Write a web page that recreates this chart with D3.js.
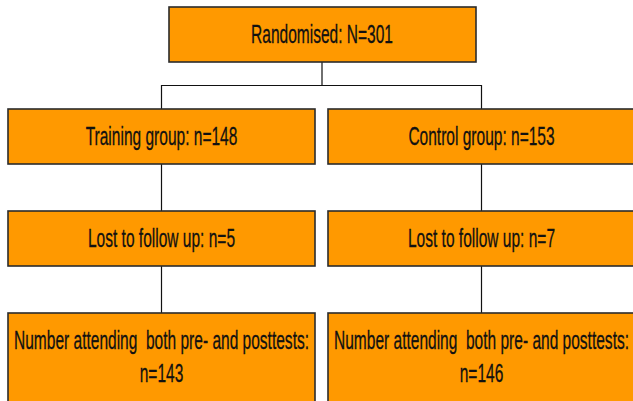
<!DOCTYPE html>
<html><head><meta charset="utf-8">
<script src="https://cdn.jsdelivr.net/npm/d3@7/dist/d3.min.js"></script>
<style>html,body{margin:0;padding:0;background:#fff;overflow:hidden} text{white-space:pre}</style>
</head><body>
<script>
// Data
const groups = ["Training group", "Control group"];
const randomised = 301;
const allocated = [148, 153];
const lost = [5, 7];
const completed = [143, 146];

const W = 633, H = 401;
const svg = d3.select("body").append("svg").attr("width", W).attr("height", H);

// scales for layout
const col = d3.scaleOrdinal().domain(["left", "right", "top"]).range([161.5, 481.5, 322]);
const row = d3.scaleOrdinal().domain([0, 1, 2, 3]).range([7, 109, 211, 313]);
const boxW = 307, boxH = 55, lastH = 110;
const fill = "#FF9900", stroke = "#2b2b2b";
const fontSize = 26.5, sx = 0.586;

const nodes = [
  {c: "top", r: 0, lines: [`Randomised: N=${randomised}`]},
  {c: "left", r: 1, lines: [`${groups[0]}: n=${allocated[0]}`]},
  {c: "right", r: 1, lines: [`${groups[1]}: n=${allocated[1]}`]},
  {c: "left", r: 2, lines: [`Lost to follow up: n=${lost[0]}`]},
  {c: "right", r: 2, lines: [`Lost to follow up: n=${lost[1]}`]},
  {c: "left", r: 3, lines: ["Number attending  both pre- and posttests:", `n=${completed[0]}`]},
  {c: "right", r: 3, lines: ["Number attending  both pre- and posttests:", `n=${completed[1]}`]}
];

// connectors
const lineG = svg.append("g").attr("fill", "none").attr("stroke", "#111").attr("stroke-width", 1.2);
const midY = 85.5;
lineG.append("path").attr("d",
  `M${col("top")},${row(0)+boxH} V${midY} M${col("left")},${row(1)} V${midY} H${col("right")} V${row(1)}`);
["left", "right"].forEach(c => {
  lineG.append("path").attr("d", `M${col(c)},${row(1)+boxH} V${row(2)}`);
  lineG.append("path").attr("d", `M${col(c)},${row(2)+boxH} V${row(3)}`);
});

// boxes
const g = svg.selectAll("g.node").data(nodes).join("g").attr("class", "node");
g.append("rect")
  .attr("x", d => col(d.c) - boxW/2 + (d.c === "top" ? 0.5 : 0))
  .attr("y", d => row(d.r))
  .attr("width", boxW)
  .attr("height", d => d.r === 3 ? lastH : boxH)
  .attr("fill", fill).attr("stroke", stroke).attr("stroke-width", 1.6);

g.each(function(d) {
  const cx = col(d.c);
  const base0 = d.r === 3 ? row(3) + 36.5 : row(d.r) + 36.5;
  const t = d3.select(this).append("text")
    .attr("xml:space", "preserve")
    .attr("transform", `translate(${cx},0) scale(${sx},1)`)
    .attr("text-anchor", "middle")
    .attr("font-family", "Liberation Sans, Arial, sans-serif")
    .attr("font-size", fontSize)
    .attr("fill", "#111")
    .attr("stroke", "#111").attr("stroke-width", 0.3);
  d.lines.forEach((l, i) => {
    t.append("tspan").attr("x", 0).attr("y", base0 + i * 32.5).text(l);
  });
});
</script>
</body></html>
